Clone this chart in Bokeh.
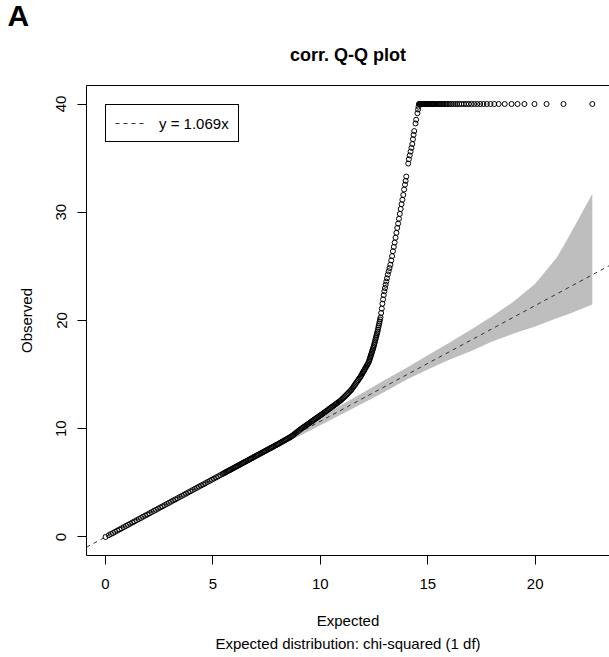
from bokeh.plotting import figure
from bokeh.models import (Range1d, LinearAxis, FixedTicker, Legend,
                          LegendItem, Title)
from bokeh.embed import file_html
from bokeh.resources import INLINE

FONT = "Liberation Sans"

# ---- data -------------------------------------------------------------
# fitted inflation slope shown by the reference line
lam = 1.069

x_ticks = [0, 5, 10, 15, 20]
y_ticks = [0, 10, 20, 30, 40]

# expected vs observed chi-squared statistics, lower part (follows the fit)
exp_low = [0.00, 0.15, 0.25, 0.35, 0.45, 0.55, 0.65, 0.75, 0.85, 0.95,
           1.05, 1.15, 1.25, 1.35, 1.45, 1.55, 1.65, 1.75, 1.85, 1.95,
           2.05, 2.15, 2.25, 2.35, 2.45, 2.55, 2.65, 2.75, 2.85, 2.95,
           3.05, 3.15, 3.25, 3.35, 3.45, 3.55, 3.65, 3.75, 3.85, 3.95,
           4.05, 4.15, 4.25, 4.35, 4.45, 4.55, 4.65, 4.75, 4.85, 4.95,
           5.05, 5.15, 5.25, 5.35, 5.45,
           5.50, 5.55, 5.60, 5.65, 5.70, 5.75, 5.80, 5.85, 5.90, 5.95,
           6.00, 6.05, 6.10, 6.15, 6.20, 6.25, 6.30, 6.35, 6.40, 6.45,
           6.50, 6.55, 6.60, 6.65, 6.70, 6.75, 6.80, 6.85, 6.90, 6.95,
           7.00, 7.05, 7.10, 7.15, 7.20, 7.25, 7.30, 7.35, 7.40, 7.45,
           7.50, 7.55, 7.60, 7.65, 7.70, 7.75, 7.80, 7.85, 7.90, 7.95,
           8.00, 8.05, 8.10, 8.15, 8.20, 8.25, 8.30, 8.35, 8.40, 8.45,
           8.50, 8.55]
obs_low = [0.00, 0.16, 0.27, 0.37, 0.48, 0.59, 0.69, 0.80, 0.91, 1.02,
           1.12, 1.23, 1.34, 1.44, 1.55, 1.66, 1.76, 1.87, 1.98, 2.08,
           2.19, 2.30, 2.41, 2.51, 2.62, 2.73, 2.83, 2.94, 3.05, 3.15,
           3.26, 3.37, 3.47, 3.58, 3.69, 3.79, 3.90, 4.01, 4.12, 4.22,
           4.33, 4.44, 4.54, 4.65, 4.76, 4.86, 4.97, 5.08, 5.18, 5.29,
           5.40, 5.51, 5.61, 5.72, 5.83,
           5.88, 5.93, 5.99, 6.04, 6.09, 6.15, 6.20, 6.25, 6.31, 6.36,
           6.41, 6.47, 6.52, 6.57, 6.63, 6.68, 6.73, 6.79, 6.84, 6.90,
           6.95, 7.00, 7.06, 7.11, 7.16, 7.22, 7.27, 7.32, 7.38, 7.43,
           7.48, 7.54, 7.59, 7.64, 7.70, 7.75, 7.80, 7.86, 7.91, 7.96,
           8.02, 8.07, 8.12, 8.18, 8.23, 8.28, 8.34, 8.39, 8.45, 8.50,
           8.55, 8.61, 8.66, 8.72, 8.77, 8.83, 8.89, 8.94, 9.00, 9.06,
           9.12, 9.17]

# the bend where observed values leave the fitted line
exp_bend = [8.60, 8.65, 8.70, 8.75, 8.80, 8.85, 8.90, 8.95, 9.00, 9.05,
            9.10, 9.15, 9.20, 9.25, 9.30, 9.35, 9.40, 9.45, 9.50, 9.55,
            9.60, 9.65, 9.70, 9.75, 9.80, 9.85, 9.90, 9.95, 10.00,
            10.05, 10.10, 10.15, 10.20, 10.25, 10.30, 10.35, 10.40, 10.45,
            10.50, 10.55, 10.60, 10.65, 10.70, 10.75, 10.80, 10.85, 10.90,
            10.95, 11.00, 11.05, 11.10, 11.15, 11.20, 11.25, 11.30, 11.35,
            11.40, 11.44, 11.48, 11.52, 11.56, 11.60, 11.64, 11.68, 11.72,
            11.76, 11.80, 11.84, 11.87, 11.90, 11.93, 11.96, 11.99, 12.02,
            12.05, 12.08, 12.11, 12.14, 12.17, 12.20, 12.23, 12.26, 12.28,
            12.30, 12.32, 12.34, 12.36, 12.38, 12.40, 12.42, 12.44, 12.46,
            12.48, 12.50, 12.52, 12.54, 12.56, 12.58, 12.60, 12.62, 12.64,
            12.66, 12.68, 12.70, 12.72, 12.74, 12.76, 12.78, 12.80]
obs_bend = [9.22, 9.29, 9.37, 9.44, 9.52, 9.60, 9.67, 9.75, 9.83, 9.90,
            9.98, 10.05, 10.12, 10.19, 10.26, 10.33, 10.40, 10.47, 10.54,
            10.61, 10.68, 10.75, 10.82, 10.89, 10.96, 11.03, 11.10, 11.17,
            11.24, 11.30, 11.38, 11.45, 11.52, 11.59, 11.67, 11.74, 11.81,
            11.88, 11.96, 12.03, 12.10, 12.17, 12.25, 12.32, 12.39, 12.47,
            12.54, 12.62, 12.72, 12.81, 12.90, 13.00, 13.10, 13.20, 13.30,
            13.40, 13.51, 13.59, 13.70, 13.81, 13.93, 14.04, 14.15, 14.27,
            14.38, 14.49, 14.61, 14.72, 14.81, 14.91, 15.02, 15.12, 15.23,
            15.33, 15.44, 15.54, 15.65, 15.75, 15.86, 15.96, 16.07, 16.20,
            16.32, 16.45, 16.57, 16.70, 16.82, 16.95, 17.07, 17.20, 17.32,
            17.45, 17.57, 17.73, 17.88, 18.04, 18.20, 18.35, 18.51, 18.66,
            18.82, 18.98, 19.16, 19.35, 19.54, 19.72, 19.91, 20.10, 20.28]

# steep upper tail below the cap
exp_top = [12.83, 12.86, 12.89, 12.92, 12.95, 12.98, 13.01, 13.04, 13.07,
           13.10, 13.14, 13.18, 13.22, 13.26, 13.30, 13.34, 13.38, 13.42,
           13.46, 13.50, 13.54, 13.58, 13.62, 13.66, 13.70, 13.74, 13.78,
           13.82, 13.86, 13.90, 13.94, 13.97, 14.00, 14.09, 14.12, 14.16,
           14.20, 14.24, 14.28, 14.31, 14.34, 14.37, 14.43, 14.46, 14.52,
           14.55, 14.57]
obs_top = [20.70, 21.10, 21.55, 21.95, 22.35, 22.70, 23.00, 23.30, 23.60,
           23.90, 24.25, 24.55, 24.85, 25.15, 25.55, 25.95, 26.40, 26.80,
           27.20, 27.65, 28.10, 28.55, 28.95, 29.40, 29.85, 30.30, 30.75,
           31.15, 31.60, 32.10, 32.55, 32.90, 33.30, 34.50, 34.90, 35.25,
           35.60, 35.95, 36.30, 36.75, 37.15, 37.50, 38.20, 38.55, 39.15,
           39.50, 39.75]

# statistics capped at 40
exp_cap = [14.59, 14.62, 14.65, 14.68, 14.71, 14.74, 14.77, 14.80, 14.83,
           14.86, 14.89, 14.92, 14.95, 14.98, 15.01, 15.05, 15.09, 15.13,
           15.17, 15.21, 15.25, 15.30, 15.35, 15.40, 15.45, 15.50, 15.56,
           15.62, 15.68, 15.74, 15.80, 15.87, 15.94, 16.02, 16.10, 16.19,
           16.28, 16.37, 16.47, 16.57, 16.68, 16.79, 16.91, 17.03, 17.16,
           17.30, 17.44, 17.59, 17.75, 17.92, 18.10, 18.30, 18.58, 18.90,
           19.18, 19.50, 19.97, 20.53, 21.32, 22.66]
obs_cap = [40.0, 40.0, 40.0, 40.0, 40.0, 40.0, 40.0, 40.0, 40.0,
           40.0, 40.0, 40.0, 40.0, 40.0, 40.0, 40.0, 40.0, 40.0,
           40.0, 40.0, 40.0, 40.0, 40.0, 40.0, 40.0, 40.0, 40.0,
           40.0, 40.0, 40.0, 40.0, 40.0, 40.0, 40.0, 40.0, 40.0,
           40.0, 40.0, 40.0, 40.0, 40.0, 40.0, 40.0, 40.0, 40.0,
           40.0, 40.0, 40.0, 40.0, 40.0, 40.0, 40.0, 40.0, 40.0,
           40.0, 40.0, 40.0, 40.0, 40.0, 40.0]

# confidence band around the fitted line
band_x = [0.0, 2.0, 4.0, 6.0, 8.0, 10.0, 12.0, 13.0, 14.0, 15.0, 16.0,
          17.0, 18.0, 19.0, 20.0, 21.0, 21.5, 22.0, 22.66]
band_lo = [0.0, 2.07, 4.15, 6.22, 8.28, 10.33, 12.38, 13.42, 14.52, 15.48,
           16.38, 17.15, 18.05, 18.80, 19.45, 20.20, 20.55, 20.95, 21.47]
band_hi = [0.0, 2.22, 4.42, 6.63, 8.85, 11.08, 13.35, 14.50, 15.62, 16.80,
           17.95, 19.15, 20.40, 21.75, 23.40, 25.80, 27.50, 29.30, 31.70]

expected = exp_low + exp_bend + exp_top + exp_cap
observed = obs_low + obs_bend + obs_top + obs_cap

# axis limits
x_lo, x_hi = -0.885, 23.46
y_lo, y_hi = -1.71, 41.71

# ---- figure -----------------------------------------------------------
p = figure(width=609, height=657, output_backend="svg", toolbar_location=None,
           title=None, x_range=Range1d(x_lo, x_hi), y_range=Range1d(y_lo, y_hi),
           min_border_left=86, min_border_right=0, min_border_top=85,
           min_border_bottom=102)
p.grid.visible = False
p.outline_line_color = None
p.background_fill_color = "white"
p.border_fill_color = "white"

# axes drawn R style: ticks outside, lines forming the box
for ax in (p.xaxis[0], p.yaxis[0]):
    ax.axis_line_color = "black"
    ax.axis_line_width = 1
    ax.major_tick_line_color = "black"
    ax.major_tick_out = 9
    ax.major_tick_in = 0
    ax.minor_tick_line_color = None
    ax.major_label_text_font = FONT
    ax.major_label_text_font_size = "15px"
    ax.major_label_text_color = "black"
    ax.axis_label_text_font = FONT
    ax.axis_label_text_font_size = "15px"
    ax.axis_label_text_font_style = "normal"
    ax.axis_label_text_color = "black"

p.xaxis.ticker = FixedTicker(ticks=x_ticks)
p.yaxis.ticker = FixedTicker(ticks=y_ticks)
p.xaxis.major_label_standoff = 14
p.xaxis.axis_label = "Expected"
p.xaxis.axis_label_standoff = 20
p.yaxis.major_label_orientation = "vertical"
p.yaxis.major_label_standoff = 11
p.yaxis.axis_label = "Observed"
p.yaxis.axis_label_standoff = 19

# top edge of the box
top = LinearAxis(ticker=FixedTicker(ticks=[]), axis_line_color="black",
                 major_tick_line_color=None, minor_tick_line_color=None,
                 major_label_text_color=None)
p.add_layout(top, "above")

# titles (stacked outward from the plot frame)
p.add_layout(Title(text="corr. Q-Q plot", align="center", text_font=FONT,
                   text_font_size="18px", text_font_style="bold",
                   text_color="black", standoff=42), "above")
p.add_layout(Title(text="A", align="left", offset=-79, text_font=FONT,
                   text_font_size="30px", text_font_style="bold",
                   text_color="black", standoff=-20), "above")
p.add_layout(Title(text="Expected distribution: chi-squared (1 df)",
                   align="center", text_font=FONT, text_font_size="15px",
                   text_font_style="normal", text_color="black",
                   standoff=3), "below")

# confidence band, points and fitted line
p.varea(x=band_x, y1=band_lo, y2=band_hi, fill_color="#bebebe", fill_alpha=1)
p.scatter(expected, observed, marker="circle", size=5, fill_color=None,
          line_color="black", line_width=1)
fit_x = [x_lo, x_hi]
fit_y = [lam * v for v in fit_x]
fit_line = p.line(fit_x, fit_y, line_color="#333333", line_dash="4 4",
                  line_width=1)

legend = Legend(items=[LegendItem(label=f"y = {lam}x", renderers=[fit_line])],
                location="top_left", margin=19, padding=9, spacing=0,
                glyph_width=31, glyph_height=18, label_standoff=13,
                label_height=18, label_text_font=FONT,
                label_text_font_size="15px", label_text_color="black",
                border_line_color="black", border_line_width=1,
                border_line_alpha=1, background_fill_color="white",
                background_fill_alpha=1)
p.add_layout(legend)

open("out.html", "w").write(file_html(p, INLINE))
